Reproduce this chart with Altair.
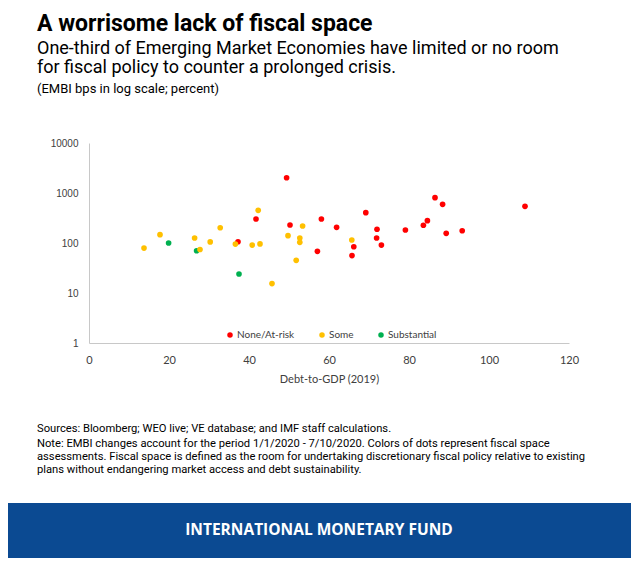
import altair as alt
import pandas as pd

# Debt-to-GDP (2019), EMBI bps, fiscal space assessment
debt = [13.75, 17.75, 19.9, 26.4, 26.9, 27.75, 30.3, 32.8, 37.25, 36.6, 37.5,
        41.75, 42.3, 40.8, 42.75, 49.4, 50.25, 53.4, 49.75, 52.7, 52.7, 51.8,
        45.75, 58.1, 57.1, 61.9, 69.2, 65.7, 66.2, 65.75, 72.0, 71.9, 73.1,
        79.1, 83.6, 84.6, 86.5, 88.4, 89.3, 93.3, 109.0]
embi = [79, 147, 100, 126, 70, 74, 105, 202, 106, 95, 24,
        302, 450, 91, 96, 2020, 229, 219, 140, 126, 103, 45,
        15.4, 302, 68, 206, 404, 115, 84, 56, 188, 126, 91,
        182, 226, 280, 807, 593, 156, 176, 541]
space = ["Some", "Some", "Substantial", "Some", "Substantial", "Some", "Some", "Some", "None/At-risk", "Some", "Substantial",
         "None/At-risk", "Some", "Some", "Some", "None/At-risk", "None/At-risk", "Some", "Some", "Some", "Some", "Some",
         "Some", "None/At-risk", "None/At-risk", "None/At-risk", "None/At-risk", "Some", "None/At-risk", "None/At-risk", "None/At-risk", "None/At-risk", "None/At-risk",
         "None/At-risk", "None/At-risk", "None/At-risk", "None/At-risk", "None/At-risk", "None/At-risk", "None/At-risk", "None/At-risk"]

categories = ["None/At-risk", "Some", "Substantial"]
cat_colors = ["#FF0000", "#FFC000", "#00B050"]
x_ticks = [0, 20, 40, 60, 80, 100, 120]
y_ticks = [1, 10, 100, 1000, 10000]

title = "A worrisome lack of fiscal space"
subtitle = ["One-third of Emerging Market Economies have limited or no room",
            "for fiscal policy to counter a prolonged crisis."]
units = "(EMBI bps in log scale; percent)"
notes = ["Sources: Bloomberg; WEO live; VE database; and IMF staff calculations.",
         "Note: EMBI changes account for the period 1/1/2020 - 7/10/2020. Colors of dots represent fiscal space",
         "assessments. Fiscal space is defined as the room for undertaking discretionary fiscal policy relative to existing",
         "plans without endangering market access and debt sustainability."]
banner = "INTERNATIONAL MONETARY FUND"

df = pd.DataFrame({"debt": debt, "embi": embi, "space": space})

points = alt.Chart(df).mark_circle(size=32, opacity=1).encode(
    x=alt.X("debt:Q", title="Debt-to-GDP (2019)",
            scale=alt.Scale(domain=[0, 120], nice=False),
            axis=alt.Axis(values=x_ticks, grid=False, ticks=False, domainColor="#c8c8c8",
                          labelFlush=False,
                          labelFont="Lato", labelFontSize=11, labelColor="#404040", labelPadding=11,
                          titleFont="Lato", titleFontSize=11, titleFontWeight="normal",
                          titleColor="#404040", titlePadding=8)),
    y=alt.Y("embi:Q", title=None,
            scale=alt.Scale(type="log", domain=[1, 10000], nice=False),
            axis=alt.Axis(values=y_ticks, format="d", grid=False, ticks=False, domainColor="#c8c8c8",
                          labelFont="Liberation Sans", labelFontSize=10, labelColor="#404040",
                          labelPadding=11)),
    color=alt.Color("space:N", scale=alt.Scale(domain=categories, range=cat_colors),
                    legend=alt.Legend(title=None, orient="none", direction="horizontal",
                                      legendX=136, legendY=187, symbolSize=30, symbolType="circle",
                                      labelFont="Lato", labelFontSize=10, labelColor="#404040",
                                      columnPadding=22, labelOffset=2, padding=0)),
)

def txt(s, x, y, size, weight="normal", font="Roboto", color="#000000", align="left"):
    return alt.Chart(pd.DataFrame({"t": [s]})).mark_text(
        align=align, baseline="alphabetic", font=font, fontSize=size, fontWeight=weight, color=color
    ).encode(text="t:N", x=alt.value(x), y=alt.value(y))

layers = [points]
layers.append(txt(title, -52, -112, 23, "bold"))
layers.append(txt(subtitle[0], -52, -89, 18))
layers.append(txt(subtitle[1], -52, -70, 18))
layers.append(txt(units, -52, -50, 13))
for i, (s, yy) in enumerate(zip(notes, [289, 304, 317, 330])):
    layers.append(txt(s, -52, yy, 11.2))

rect = alt.Chart(pd.DataFrame({"a": [0]})).mark_rect(color="#0B4A92").encode(
    x=alt.value(-81), x2=alt.value(542), y=alt.value(360), y2=alt.value(415))
layers.append(rect)
layers.append(txt(banner, 230, 392, 15.5, "bold", font="Open Sans", color="#ffffff", align="center"))

chart = alt.layer(*layers).properties(
    width=480, height=200,
    autosize=alt.AutoSizeParams(type="none"),
    padding={"left": 81, "top": 135, "right": 62, "bottom": 215},
).configure_view(stroke=None)

chart.save("out.html", embed_options={"renderer": "svg", "actions": False})
